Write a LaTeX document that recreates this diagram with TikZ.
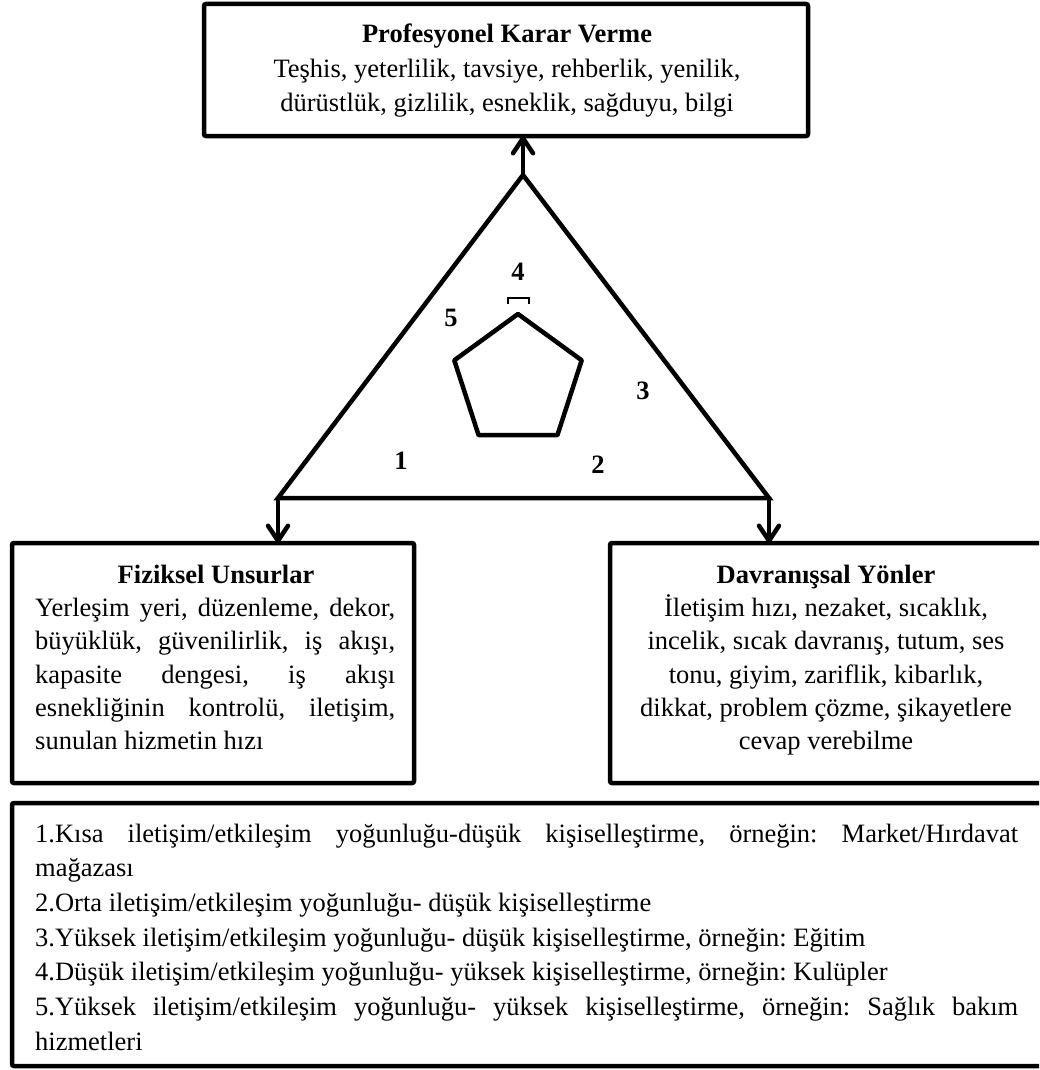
\documentclass[tikz,border=0pt]{standalone}
\usepackage{fontspec}
\setmainfont{Liberation Serif}
\usetikzlibrary{arrows.meta}
\frenchspacing
\begin{document}
\begin{tikzpicture}[x=1pt,y=-1pt,
  frame/.style={draw, line width=4.5pt, rounded corners=2pt, inner sep=0pt, outer sep=0pt, anchor=north west},
  edge/.style={line width=4.5pt, line join=miter},
  arrowline/.style={line width=4.5pt, -{Straight Barb[length=15pt,width=20pt,round]}},
  txt/.style={inner sep=0pt, anchor=base, font=\fontsize{26.5}{33}\selectfont},
  ltxt/.style={inner sep=0pt, anchor=base west, font=\fontsize{26.5}{33}\selectfont},
  head/.style={inner sep=0pt, anchor=base, font=\fontsize{26.5}{33}\selectfont\bfseries},
  num/.style={inner sep=0pt, font=\fontsize{26.5}{33}\selectfont\bfseries},
]
\clip (0,0) rectangle (1039,1070);

% boxes
\node[frame, minimum width=604pt, minimum height=132pt] (pkv) at (204,4) {};
\node[frame, minimum width=402pt, minimum height=240pt] (fiz) at (12,543) {};
\node[frame, minimum width=433pt, minimum height=240pt] (dav) at (610,543) {};
\node[frame, minimum width=1031pt, minimum height=263pt] (leg) at (12,803) {};

% triangle with arrows to the three boxes
\coordinate (apex) at (523,175);
\coordinate (bl) at (278,498);
\coordinate (br) at (769,498);
\draw[edge] (apex) -- (bl) -- (br) -- cycle;
\draw[arrowline] (apex) -- (apex |- pkv.south);
\draw[arrowline] (bl) -- (bl |- fiz.north);
\draw[arrowline] (br) -- (br |- dav.north);

% pentagon
\coordinate (p1) at (518,314);
\coordinate (p2) at (581.7,360.3);
\coordinate (p3) at (557.4,435.2);
\coordinate (p4) at (478.6,435.2);
\coordinate (p5) at (454.3,360.3);
\draw[edge, line join=round] (p1) -- (p2) -- (p3) -- (p4) -- (p5) -- cycle;
\draw[line width=2pt] (508,304) -- (508,298) -- (529,298) -- (529,304);

% numbers
\node[num] (n4) at (518,272) {4};
\node[num] (n5) at (451,318) {5};
\node[num] (n3) at (643,391) {3};
\node[num] (n1) at (401,461) {1};
\node[num] (n2) at (598,465) {2};

% top box text
\node[head] (pkvh) at (507,43) {Profesyonel Karar Verme};
\node[txt] (pkv1) at (507,78) {Teşhis, yeterlilik, tavsiye, rehberlik, yenilik,};
\node[txt] (pkv2) at (507,112) {dürüstlük, gizlilik, esneklik, sağduyu, bilgi};

% left box text
\node[head] (fizh) at (216,583) {Fiziksel Unsurlar};
\node[ltxt] (fiz1) at (35,616) {\makebox[360pt][s]{Yerleşim yeri, düzenleme, dekor,}};
\node[ltxt] (fiz2) at (35,649.5) {\makebox[360pt][s]{büyüklük, güvenilirlik, iş akışı,}};
\node[ltxt] (fiz3) at (35,683) {\makebox[360pt][s]{kapasite dengesi, iş akışı}};
\node[ltxt] (fiz4) at (35,716) {\makebox[360pt][s]{esnekliğinin kontrolü, iletişim,}};
\node[ltxt] (fiz5) at (35,749.5) {sunulan hizmetin hızı};

% right box text
\node[head] (davh) at (826,583) {Davranışsal Yönler};
\node[txt] (dav1) at (826,616) {İletişim hızı, nezaket, sıcaklık,};
\node[txt] (dav2) at (826,649.5) {incelik, sıcak davranış, tutum, ses};
\node[txt] (dav3) at (826,683) {tonu, giyim, zariflik, kibarlık,};
\node[txt] (dav4) at (826,716) {dikkat, problem çözme, şikayetlere};
\node[txt] (dav5) at (826,749.5) {cevap verebilme};

% legend text
\node[ltxt] (l1) at (35,842) {\makebox[983pt][s]{1.Kısa iletişim/etkileşim yoğunluğu-düşük kişiselleştirme, örneğin: Market/Hırdavat}};
\node[ltxt] (l1b) at (35,876.7) {mağazası};
\node[ltxt] (l2) at (35,911.3) {2.Orta iletişim/etkileşim yoğunluğu- düşük kişiselleştirme};
\node[ltxt] (l3) at (35,946) {3.Yüksek iletişim/etkileşim yoğunluğu- düşük kişiselleştirme, örneğin: Eğitim};
\node[ltxt] (l4) at (35,980.7) {4.Düşük iletişim/etkileşim yoğunluğu- yüksek kişiselleştirme, örneğin: Kulüpler};
\node[ltxt] (l5) at (35,1015.3) {\makebox[983pt][s]{5.Yüksek iletişim/etkileşim yoğunluğu- yüksek kişiselleştirme, örneğin: Sağlık bakım}};
\node[ltxt] (l5b) at (35,1050) {hizmetleri};
\end{tikzpicture}
\end{document}
